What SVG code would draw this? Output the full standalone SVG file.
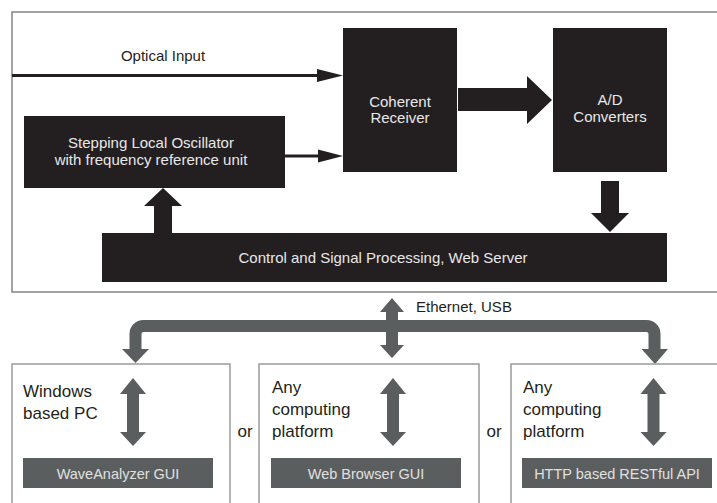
<svg xmlns="http://www.w3.org/2000/svg" width="717" height="503" viewBox="0 0 717 503">
<style>
text{font-family:"Liberation Sans",Arial,sans-serif;}
.blk{fill:#231f20;}
.gry{fill:#5b5e5f;}
.lt{fill:#e8e8e8;font-size:15px;text-anchor:middle;}
.dk{fill:#231f20;font-size:17px;}
.frame{fill:none;stroke:#858585;stroke-width:1.5;}
.bframe{fill:none;stroke:#9a9a9a;stroke-width:1.5;}
.lbl{fill:#e0e0e0;font-size:14.5px;text-anchor:middle;}
</style>
<rect width="717" height="503" fill="#fff"/>
<g id="frame"><rect class="frame" x="12" y="12" width="720" height="280"/></g>

<g id="optical-input"><text x="163" y="61" style="fill:#231f20;font-size:15px;text-anchor:middle">Optical Input</text></g>

<g id="coherent-receiver">
<rect class="blk" x="343" y="28" width="114" height="144"/>
<text class="lt" x="400" y="107">Coherent</text>
<text class="lt" x="400" y="122.5">Receiver</text>
</g>
<g id="ad-converters">
<rect class="blk" x="553" y="28" width="114" height="144"/>
<text class="lt" x="610" y="105">A/D</text>
<text class="lt" x="610" y="121.5">Converters</text>
</g>
<g id="local-oscillator">
<rect class="blk" x="24" y="116" width="261" height="72"/>
<text class="lt" x="151" y="148">Stepping Local Oscillator</text>
<text class="lt" x="151" y="165">with frequency reference unit</text>
</g>
<g id="control">
<rect class="blk" x="102" y="233" width="565" height="49"/>
<text class="lt" x="383" y="263">Control and Signal Processing, Web Server</text>
</g>

<g id="connectors">
<line x1="12" y1="75.5" x2="319" y2="75.5" stroke="#231f20" stroke-width="3"/>
<polygon class="blk" points="317,69 343,75.5 317,82"/>
<line x1="285" y1="156" x2="319" y2="156" stroke="#231f20" stroke-width="3"/>
<polygon class="blk" points="318,149.5 343,156 318,162.5"/>
<polygon class="blk" points="458,88 527,88 527,76 552,100 527,124 527,111 458,111"/>
<polygon class="blk" points="601,181 619,181 619,213 629,213 610,232 591,213 601,213"/>
<polygon class="blk" points="154,233 154,206 144,206 163,188 182,206 172,206 172,233"/>
<path d="M135.5,350 V334 A8,8 0 0 1 143.5,326 H646.5 A8,8 0 0 1 654.5,334 V350" fill="none" stroke="#5b5e5f" stroke-width="12"/>
<polygon class="gry" points="122,349 149,349 135.5,363"/>
<polygon class="gry" points="641.5,349 668,349 655,364"/>
<polygon class="gry" points="386,312 386,345 380,345 392,358 404,345 398,345 398,312 404,312 392,298 380,312"/>
<polygon class="gry" points="127,394 127,432 120,432 133,446 146,432 139,432 139,394 146,394 133,378 120,394"/>
<polygon class="gry" points="387,394 387,432 380,432 393,446 406,432 399,432 399,394 406,394 393,378 380,394"/>
<polygon class="gry" points="647.5,394 647.5,432 640.5,432 653.5,446 666.5,432 659.5,432 659.5,394 666.5,394 653.5,378 640.5,394"/>
<text x="416" y="312" style="fill:#231f20;font-size:15px">Ethernet, USB</text>
</g>

<g id="windows-pc">
<rect class="bframe" x="12" y="364" width="218" height="150"/>
<text class="dk" x="23" y="397">Windows</text>
<text class="dk" x="23" y="419">based PC</text>
<rect class="gry" x="23" y="458" width="190" height="30"/>
<text class="lbl" x="118" y="479">WaveAnalyzer GUI</text>
</g>
<g id="or1"><text class="dk" x="245" y="437" text-anchor="middle">or</text></g>
<g id="web-browser">
<rect class="bframe" x="259" y="364" width="220" height="150"/>
<text class="dk" x="272" y="393">Any</text>
<text class="dk" x="272" y="415">computing</text>
<text class="dk" x="272" y="437">platform</text>
<rect class="gry" x="271" y="458" width="190" height="30"/>
<text class="lbl" x="366" y="479">Web Browser GUI</text>
</g>
<g id="or2"><text class="dk" x="494" y="437" text-anchor="middle">or</text></g>
<g id="restful-api">
<rect class="bframe" x="511" y="364" width="220" height="150"/>
<text class="dk" x="523" y="393">Any</text>
<text class="dk" x="523" y="415">computing</text>
<text class="dk" x="523" y="437">platform</text>
<rect class="gry" x="522" y="458" width="190" height="30"/>
<text class="lbl" x="617" y="479">HTTP based RESTful API</text>
</g>
</svg>
